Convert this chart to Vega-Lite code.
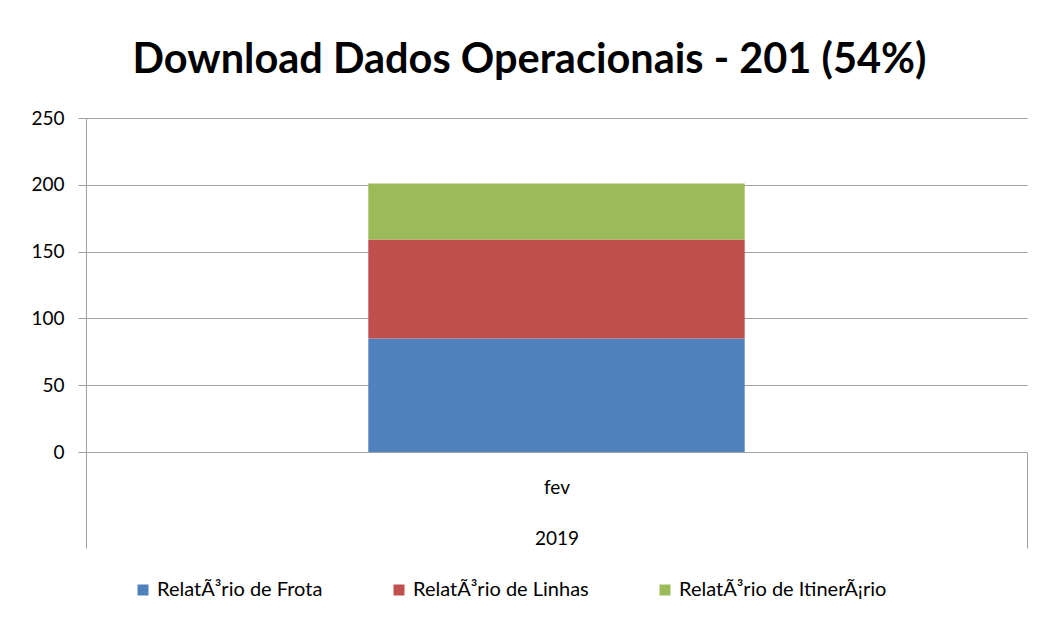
{
  "$schema": "https://vega.github.io/schema/vega-lite/v6.json",
  "autosize": {"type": "none"},
  "padding": {"left": 86, "top": 118, "right": 11, "bottom": 173},
  "width": 941,
  "height": 334,
  "background": "white",
  "title": {
    "text": "Download Dados Operacionais - 201 (54%)",
    "font": "Lato",
    "fontSize": 41.5,
    "fontWeight": "bold",
    "color": "#000000",
    "anchor": "middle",
    "baseline": "alphabetic",
    "offset": 34,
    "dy": 39,
    "dx": -27
  },
  "data": {
    "values": [
      {"mes": "fev", "ano": "2019", "relatorio": "RelatÃ³rio de Frota", "ordem": 1, "downloads": 85},
      {"mes": "fev", "ano": "2019", "relatorio": "RelatÃ³rio de Linhas", "ordem": 2, "downloads": 74},
      {"mes": "fev", "ano": "2019", "relatorio": "RelatÃ³rio de ItinerÃ¡rio", "ordem": 3, "downloads": 42}
    ]
  },
  "mark": {"type": "bar", "width": {"band": 0.4}},
  "encoding": {
    "x": {
      "field": "mes",
      "type": "nominal",
      "scale": {"paddingInner": 0, "paddingOuter": 0},
      "axis": {
        "title": "2019",
        "titleFont": "Lato",
        "titleFontSize": 19,
        "titleFontWeight": "normal",
        "titleColor": "#000000",
        "titleY": 77,
        "titleBaseline": "top",
        "labelAngle": 0,
        "labelFont": "Lato",
        "labelFontSize": 19,
        "labelColor": "#000000",
        "labelPadding": -70,
        "tickBand": "extent",
        "tickSize": 96,
        "tickColor": "#a0a0a0",
        "domainColor": "#a0a0a0",
        "grid": false
      }
    },
    "y": {
      "field": "downloads",
      "type": "quantitative",
      "aggregate": "sum",
      "stack": "zero",
      "scale": {"domain": [0, 250], "nice": false},
      "axis": {
        "title": null,
        "values": [0, 50, 100, 150, 200, 250],
        "labelFont": "Lato",
        "labelFontSize": 19,
        "labelColor": "#000000",
        "labelPadding": 14,
        "tickSize": 8,
        "tickColor": "#a0a0a0",
        "domainColor": "#a0a0a0",
        "gridColor": "#a0a0a0",
        "grid": true
      }
    },
    "color": {
      "field": "relatorio",
      "type": "nominal",
      "scale": {
        "domain": ["RelatÃ³rio de Frota", "RelatÃ³rio de Linhas", "RelatÃ³rio de ItinerÃ¡rio"],
        "range": ["#4F81BD", "#C0504D", "#9BBB59"]
      },
      "legend": {
        "title": null,
        "orient": "none",
        "direction": "horizontal",
        "legendX": 47,
        "legendY": 462,
        "symbolType": "square",
        "symbolSize": 121,
        "symbolStrokeWidth": 0,
        "labelFont": "Lato",
        "labelFontSize": 20,
        "labelColor": "#000000",
        "labelOffset": 4,
        "columnPadding": 66,
        "labelLimit": 400
      }
    },
    "order": {"field": "ordem", "type": "quantitative"}
  },
  "config": {
    "view": {"stroke": null}
  }
}
